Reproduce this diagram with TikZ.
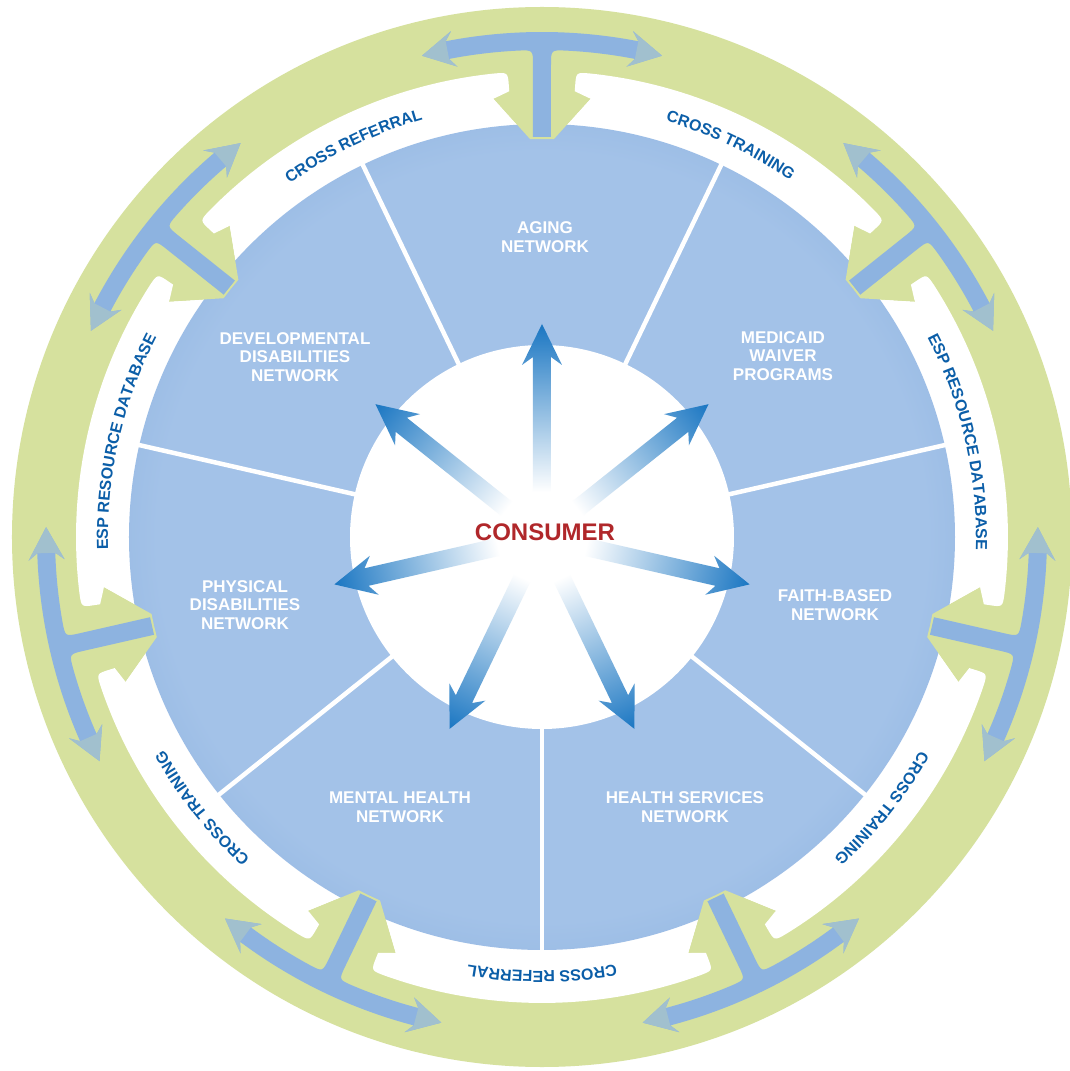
\documentclass[tikz,border=0pt]{standalone}
\usepackage{fontspec}
\setmainfont{Liberation Sans}
\usetikzlibrary{decorations.text}
\definecolor{ringgreen}{HTML}{D6E19E}
\definecolor{bluein}{HTML}{A3C2E8}
\definecolor{bluemid}{HTML}{90B5E1}
\definecolor{blueout}{HTML}{89AFDF}
\definecolor{tblue}{HTML}{8DB3E0}
\definecolor{arrowblue}{HTML}{1A76C2}
\definecolor{labelblue}{HTML}{0B5EA8}
\definecolor{consred}{HTML}{B0272A}
\pgfdeclareradialshading{blueband}{\pgfpoint{0bp}{0bp}}{color(0bp)=(bluein); color(23.3bp)=(bluein); color(29bp)=(bluemid); color(50bp)=(blueout)}
\newcommand\ringfont{\color{labelblue}\fontsize{16}{16}\selectfont\bfseries}
\tikzset{
  sectorlabel/.style={text=white, font=\fontsize{17}{18.5}\selectfont\bfseries, align=center, inner sep=0pt},
  centerlabel/.style={text=consred, font=\fontsize{24}{24}\selectfont\bfseries, inner sep=0pt},
  ringlabel/.style={decorate, decoration={text along path, text align=center, text={|\ringfont|#1}}},
  radarrow/.style={left color=white, right color=arrowblue, middle color=arrowblue!50!white},
  fadehead/.style={fill=tblue!72!ringgreen}
}
\begin{document}
\begin{tikzpicture}[x=1pt,y=1pt]
\fill[white] (-542,-534) rectangle (527,537);
\useasboundingbox (-542,-534) rectangle (527,537);
% green ring
\fill[ringgreen] (0,0) circle[radius=530];
% white bands between junctions
\foreach \k in {0,...,6}{
  \begin{scope}[rotate=\k*360/7]
  \fill[white] (88.3:398) -- (83.7:441) -- (85.8:447) -- (85.8:452) .. controls (85.8:466) .. (84.08:466)
     arc[start angle=84.08, end angle=44.49, radius=466] .. controls (42.77:466) .. (42.77:452)
     -- (42.77:447) -- (44.87:441) -- (40.27:398) arc[start angle=40.27, end angle=88.3, radius=398] -- cycle;
  \end{scope}
}
% blue disk
\shade[shading=blueband] (0,0) circle[radius=413];
\fill[white] (0,0) circle[radius=192];
% dividers
\foreach \k in {0,...,6}{
  \draw[white, line width=4.5pt] ({64.2857+\k*51.4286}:188) -- ({64.2857+\k*51.4286}:415);
}
% green heads and blue T arrows
\foreach \k in {0,...,6}{
  \begin{scope}[rotate=\k*360/7]
  \fill[ringgreen] (90:446) -- (96.3:441) -- (91.7:398) -- (90:398) -- cycle;
  \fill[ringgreen] (90:446) -- (83.7:441) -- (88.3:398) -- (90:398) -- cycle;
  \fill[tblue] (-9,400) -- (-9,472) .. controls (-9,487) .. (92.8:487)
     arc[start angle=92.8, end angle=101, radius=487] -- (100.2:478) -- (104:496) -- (100.2:514) -- (101:505)
     arc[start angle=101, end angle=79, radius=505] -- (79.8:514) -- (76:496) -- (79.8:478) -- (79:487)
     arc[start angle=79, end angle=87.2, radius=487] .. controls (9,487) .. (9,472) -- (9,400) -- cycle;
  \fill[fadehead] (101:487) -- (100.2:478) -- (104:496) -- (100.2:514) -- (101:505) -- cycle;
  \fill[fadehead] (79:487) -- (79.8:478) -- (76:496) -- (79.8:514) -- (79:505) -- cycle;
  \end{scope}
}
% radiating arrows
\foreach \a in {90,141.4286,192.8571,244.2857,295.7143,347.1429,38.5714}{
  \begin{scope}[transform canvas={rotate=\a}]
  \shade[radarrow] (45,-9) -- (180,-9) -- (172,-20) -- (213,0) -- (172,20) -- (180,9) -- (45,9) -- cycle;
  \end{scope}
}
% labels
\node[centerlabel] (consumer) at (3,5) {CONSUMER};
\node[sectorlabel] (aging) at (3,300) {AGING\\NETWORK};
\node[sectorlabel] (medicaid) at (241,181) {MEDICAID\\WAIVER\\PROGRAMS};
\node[sectorlabel] (faith) at (293,-68) {FAITH-BASED\\NETWORK};
\node[sectorlabel] (health) at (143,-270) {HEALTH SERVICES\\NETWORK};
\node[sectorlabel] (mental) at (-142,-270) {MENTAL HEALTH\\NETWORK};
\node[sectorlabel] (physical) at (-297,-68) {PHYSICAL\\DISABILITIES\\NETWORK};
\node[sectorlabel] (develop) at (-247,180) {DEVELOPMENTAL\\DISABILITIES\\NETWORK};
% ring labels (clockwise, tops outward)
\path[ringlabel={CROSS REFERRAL}] (136.714:434) arc[start angle=136.714, end angle=94.714, radius=434];
\path[ringlabel={CROSS TRAINING}] (85.286:434) arc[start angle=85.286, end angle=43.286, radius=434];
\path[ringlabel={ESP RESOURCE DATABASE}] (33.857:434) arc[start angle=33.857, end angle=-8.143, radius=434];
\path[ringlabel={CROSS TRAINING}] (-17.571:434) arc[start angle=-17.571, end angle=-59.571, radius=434];
\path[ringlabel={CROSS REFERRAL}] (-69:434) arc[start angle=-69, end angle=-111, radius=434];
\path[ringlabel={CROSS TRAINING}] (-120.429:434) arc[start angle=-120.429, end angle=-162.429, radius=434];
\path[ringlabel={ESP RESOURCE DATABASE}] (188.143:434) arc[start angle=188.143, end angle=146.143, radius=434];
\end{tikzpicture}
\end{document}
